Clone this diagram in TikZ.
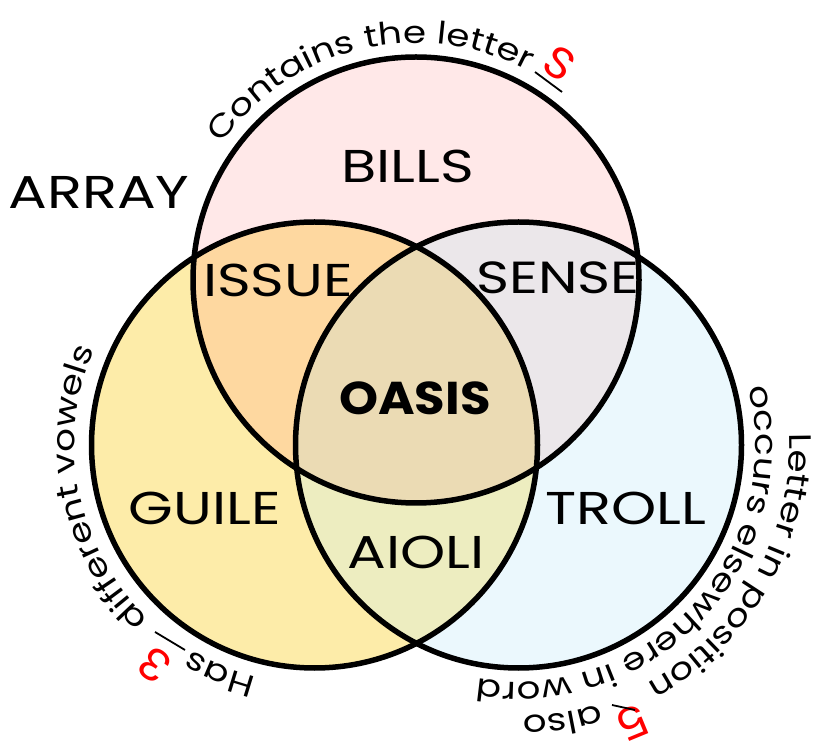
\documentclass[tikz,border=0pt]{standalone}
\usepackage{fontspec}
\setmainfont{Poppins}[FakeStretch=1.25]
\newfontfamily\boldlbl{Poppins}[FakeStretch=1.08]
\newfontfamily\arcfont{Poppins}[FakeStretch=1.2]
\usetikzlibrary{decorations.text}
\definecolor{cpink}{RGB}{255,232,232}
\definecolor{cyel}{RGB}{253,236,169}
\definecolor{cblu}{RGB}{235,248,253}
\definecolor{ctl}{RGB}{254,216,160}
\definecolor{ctr}{RGB}{235,231,234}
\definecolor{clr}{RGB}{237,237,192}
\definecolor{cmid}{RGB}{235,219,180}
\definecolor{cred}{RGB}{255,0,0}
\tikzset{
  ring/.style={draw=black,line width=5.5pt},
  lbl/.style={inner sep=0pt,font=\fontsize{46}{50}\selectfont},
  digit/.style={inner sep=0pt,text=cred,font=\fontsize{44}{48}\selectfont\boldlbl},
  blank/.style={line width=1.8pt,black},
  curvedleft/.style={decorate,decoration={text along path,text align=left,text={|\arcfont\fontsize{31}{36}\selectfont|#1}}}
}
\begin{document}
\begin{tikzpicture}[x=1pt,y=1pt]
\useasboundingbox (0,0) rectangle (832,747);
\coordinate (T) at (416,467);
\coordinate (L) at (314.5,302);
\coordinate (R) at (518.5,302);
\def\rr{223}
% fills
\fill[cyel] (L) circle[radius=\rr];
\fill[cblu] (R) circle[radius=\rr];
\fill[cpink] (T) circle[radius=\rr];
\begin{scope}\clip (T) circle[radius=\rr];\fill[ctl] (L) circle[radius=\rr];\end{scope}
\begin{scope}\clip (T) circle[radius=\rr];\fill[ctr] (R) circle[radius=\rr];\end{scope}
\begin{scope}\clip (L) circle[radius=\rr];\fill[clr] (R) circle[radius=\rr];\end{scope}
\begin{scope}\clip (L) circle[radius=\rr];\clip (T) circle[radius=\rr];\fill[cmid] (R) circle[radius=\rr];\end{scope}
% outlines
\draw[ring] (L) circle[radius=\rr];
\draw[ring] (R) circle[radius=\rr];
\draw[ring] (T) circle[radius=\rr];
% labels
\node[lbl] (array) at (99,555) {ARRAY};
\node[lbl] (bills) at (408,581) {BILLS};
\node[lbl] (issue) at (278,467) {ISSUE};
\node[lbl,font=\fontsize{45}{50}\selectfont] (sense) at (558,469) {SENSE};
\node[lbl,font=\fontsize{46}{50}\selectfont\boldlbl\bfseries] (oasis) at (415,349) {OASIS};
\node[lbl] (guile) at (205,239) {GUILE};
\node[lbl] (troll) at (626,239) {TROLL};
\node[lbl] (aioli) at (416,195) {AIOLI};
% curved captions
\path[curvedleft={Contains the letter}] (T) ++(145:237) arc[start angle=145,end angle=30,radius=237];
\path[curvedleft={Has}] (L) ++(256:239) arc[start angle=256,end angle=225,radius=239];
\path[curvedleft={different vowels}] (L) ++(226.4:240) arc[start angle=226.4,end angle=130,radius=240];
\path[curvedleft={Letter in position}] (R) ++(2.5:271) arc[start angle=2.5,end angle=-80,radius=271];
\path[curvedleft={also}] (R) ++(-72.7:271) arc[start angle=-72.7,end angle=-110,radius=271];
\path[curvedleft={occurs elsewhere in word}] (R) ++(14:237) arc[start angle=14,end angle=-130,radius=237];
% red letters with blanks
\node[digit,rotate=-33.6] (dS) at (560,684) {S};
\node[digit,rotate=143.7] (d3) at (155,82) {3};
\node[digit,rotate=-157.6] (d5) at (633,24) {5};
\coordinate (bs1) at (535,675); \coordinate (bs2) at (562,655);
\coordinate (b31) at (155,115); \coordinate (b32) at (185,97);
\coordinate (b51) at (612,42); \coordinate (b52) at (635,37);
\draw[blank] (bs1) -- (bs2);
\draw[blank] (b31) -- (b32);
\draw[blank] (b51) -- (b52);
\end{tikzpicture}
\end{document}
